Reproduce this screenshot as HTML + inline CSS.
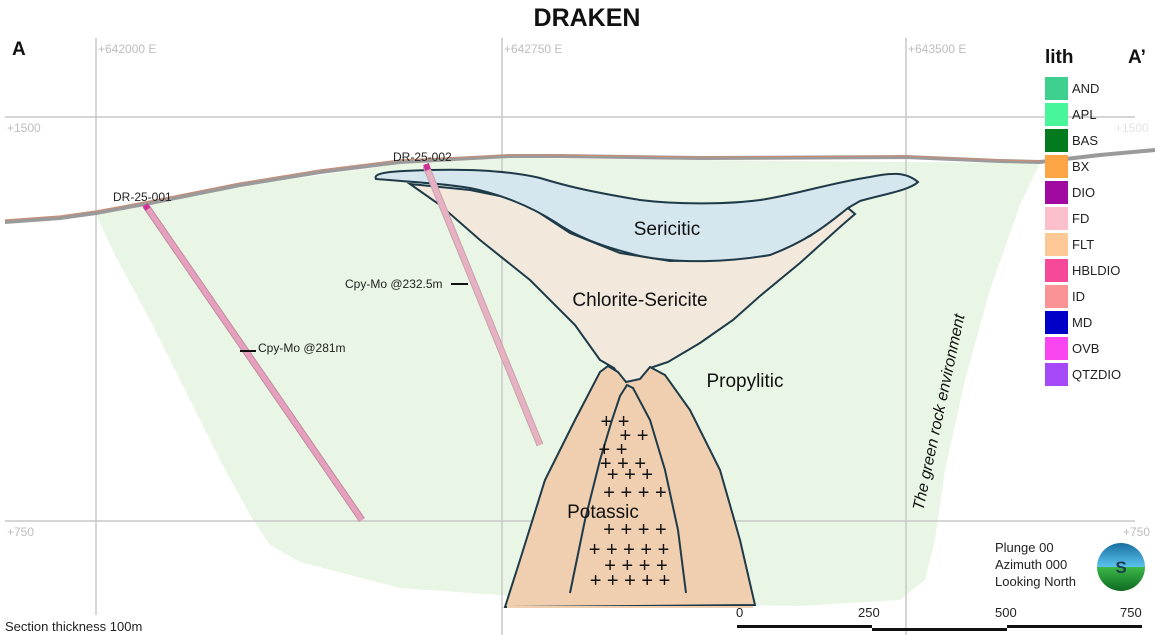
<!DOCTYPE html>
<html><head><meta charset="utf-8"><style>
html,body{margin:0;padding:0;background:#fff;}
svg{display:block;font-family:"Liberation Sans",sans-serif;}
</style></head><body>
<svg width="1175" height="635" viewBox="0 0 1175 635" xmlns="http://www.w3.org/2000/svg">
<rect width="1175" height="635" fill="#fff"/>
<!-- green envelope -->
<path d="M96,215 L240,186 L400,164 L510,158 L700,160 L906,162 L1040,163 L1020,205 L990,290 L965,380 L945,470 L935,540 L925,580 L900,600 L800,606 L700,604 L540,598 L400,588 L300,562 L270,545 L250,515 L220,460 L190,400 L150,320 L115,255 Z" fill="#eaf6e5"/>
<!-- grid -->
<g stroke="#c9c9c9" stroke-width="1.5" fill="none">
<line x1="96" y1="38" x2="96" y2="615"/>
<line x1="502" y1="38" x2="502" y2="635"/>
<line x1="906" y1="38" x2="906" y2="635"/>
<line x1="5" y1="117" x2="1135" y2="117"/>
<line x1="5" y1="521" x2="1135" y2="521"/>
</g>
<g fill="#bdbdbd" font-size="12">
<text x="98" y="53">+642000 E</text>
<text x="504" y="53">+642750 E</text>
<text x="908" y="53">+643500 E</text>
<text x="7" y="132">+1500</text>
<text x="7" y="536">+750</text>
<text x="1115" y="132" fill="#e4e4e4">+1500</text>
<text x="1123" y="536">+750</text>
</g>
<!-- topography -->
<path d="M5,222 L60,218 L96,213 L150,203 L240,185 L320,172 L400,162 L510,156 L560,156 L700,158 L906,157 L1000,161 L1040,162 L1100,155 L1155,150" fill="none" stroke="#9a9a9a" stroke-width="4"/>
<path d="M5,220 L60,216 L96,211 L150,201 L240,183 L320,170 L400,160 L510,155 L560,155 L700,157 L906,156 L1000,160 L1040,161" fill="none" stroke="#c58f7a" stroke-width="1.2"/>
<!-- chlorite-sericite -->
<path d="M410,184 L470,190 L520,200 L570,233 L620,253 L670,261 L720,260 L770,255 L810,236 L848,208 L855,214 L840,227 L800,263 L760,296 L733,320 L700,343 L668,362 L650,368 L640,380 L625,383 L614,368 L600,360 L575,325 L530,280 L480,240 L440,205 Z" fill="#f2e8dc" stroke="#1e3a48" stroke-width="2"/>
<!-- sericitic -->
<path d="M376,179 C372,172 395,171 430,170 C470,169 510,171 540,178 C560,184 580,190 640,200 C680,205 730,204 760,200 C790,196 830,183 870,177 C890,173 905,171 918,182 C910,190 885,194 860,201 L848,208 C830,222 810,240 770,255 C730,262 680,264 640,256 C600,246 575,236 555,222 C530,206 500,194 470,188 C440,183 410,182 376,179 Z" fill="#d5e6ee" stroke="#1e3a48" stroke-width="2"/>
<!-- potassic outer -->
<path d="M505,607 L520,560 L545,480 L575,420 L600,372 L608,366 L618,372 L626,382 L640,379 L650,367 L665,375 L690,410 L720,470 L740,540 L755,605 Z" fill="#f0cfb0" stroke="#1e3a48" stroke-width="2"/>
<path d="M507,607 L753,607" stroke="#f0cfb0" stroke-width="2"/>
<!-- inner -->
<path d="M570,593 L585,520 L600,460 L612,420 L620,396 L627,385 L633,388 L650,420 L665,470 L678,530 L686,593" fill="none" stroke="#1e3a48" stroke-width="2"/>
<g font-size="20" fill="#111" text-anchor="middle">
<text x="615" y="428">+ +</text><text x="634" y="442">+ +</text>
<text x="613" y="456">+ +</text><text x="623" y="470">+ + +</text>
<text x="630" y="481">+ + +</text><text x="635" y="499">+ + + +</text>
<text x="635" y="536">+ + + +</text><text x="629" y="556">+ + + + +</text>
<text x="636" y="572">+ + + +</text><text x="630" y="587">+ + + + +</text>
</g>
<!-- drill holes -->
<line x1="146" y1="206" x2="362" y2="520" stroke="#bd8e9a" stroke-width="7"/>
<line x1="146" y1="206" x2="362" y2="520" stroke="#e79fc0" stroke-width="5"/>
<line x1="145" y1="205" x2="148" y2="209" stroke="#d0309a" stroke-width="6"/>
<line x1="426" y1="166" x2="540" y2="445" stroke="#c8a0a8" stroke-width="7"/>
<line x1="426" y1="166" x2="540" y2="445" stroke="#e7b1c4" stroke-width="5"/>
<line x1="426" y1="164" x2="428" y2="170" stroke="#d0309a" stroke-width="6"/>
<line x1="240" y1="351" x2="256" y2="351" stroke="#111" stroke-width="2"/>
<line x1="451" y1="284" x2="468" y2="284" stroke="#111" stroke-width="2"/>
<g font-size="12" fill="#222">
<text x="113" y="201">DR-25-001</text>
<text x="393" y="161">DR-25-002</text>
<text x="258" y="352">Cpy-Mo @281m</text>
<text x="345" y="288">Cpy-Mo @232.5m</text>
</g>
<g font-size="19" fill="#111" text-anchor="middle">
<text x="667" y="235">Sericitic</text>
<text x="640" y="306">Chlorite-Sericite</text>
<text x="745" y="387">Propylitic</text>
<text x="603" y="518">Potassic</text>
<text x="938" y="418" font-size="16" font-style="italic" transform="rotate(-78 938 412)">The green rock environment</text>
</g>
<text x="587" y="26" font-size="25" font-weight="bold" text-anchor="middle" fill="#111">DRAKEN</text>
<text x="12" y="55" font-size="19" font-weight="bold" fill="#111">A</text>
<text x="1128" y="63" font-size="19" font-weight="bold" fill="#111">A’</text>
<text x="1045" y="63" font-size="19" font-weight="bold" fill="#111">lith</text>
<!-- legend -->
<g font-size="13" fill="#222">
<rect x="1045" y="77" width="23" height="23" fill="#3dd08f"/><text x="1072" y="93">AND</text>
<rect x="1045" y="103" width="23" height="23" fill="#49f59a"/><text x="1072" y="119">APL</text>
<rect x="1045" y="129" width="23" height="23" fill="#027a1d"/><text x="1072" y="145">BAS</text>
<rect x="1045" y="155" width="23" height="23" fill="#fba546"/><text x="1072" y="171">BX</text>
<rect x="1045" y="181" width="23" height="23" fill="#a00aa0"/><text x="1072" y="197">DIO</text>
<rect x="1045" y="207" width="23" height="23" fill="#fcc0cc"/><text x="1072" y="223">FD</text>
<rect x="1045" y="233" width="23" height="23" fill="#fcc996"/><text x="1072" y="249">FLT</text>
<rect x="1045" y="259" width="23" height="23" fill="#f7499a"/><text x="1072" y="275">HBLDIO</text>
<rect x="1045" y="285" width="23" height="23" fill="#fa9494"/><text x="1072" y="301">ID</text>
<rect x="1045" y="311" width="23" height="23" fill="#0000c8"/><text x="1072" y="327">MD</text>
<rect x="1045" y="337" width="23" height="23" fill="#fa46f0"/><text x="1072" y="353">OVB</text>
<rect x="1045" y="363" width="23" height="23" fill="#a449f5"/><text x="1072" y="379">QTZDIO</text>
</g>
<!-- orientation -->
<g font-size="13" fill="#222">
<text x="995" y="552">Plunge 00</text>
<text x="995" y="569">Azimuth 000</text>
<text x="995" y="586">Looking North</text>
</g>
<defs><linearGradient id="sph" x1="0" y1="0" x2="0" y2="1">
<stop offset="0" stop-color="#1a6fa0"/><stop offset="0.5" stop-color="#5bc3ee"/><stop offset="0.5" stop-color="#3db84a"/><stop offset="1" stop-color="#0d6a20"/></linearGradient></defs>
<circle cx="1121" cy="567" r="24" fill="url(#sph)"/>
<text x="1121" y="573" font-size="17" font-weight="bold" text-anchor="middle" fill="#1f3b50">S</text>
<!-- scale -->
<g font-size="13" fill="#222">
<text x="736" y="617">0</text><text x="858" y="617">250</text><text x="995" y="617">500</text><text x="1120" y="617">750</text>
</g>
<rect x="737" y="625" width="135" height="3" fill="#111"/>
<rect x="872" y="628" width="135" height="3" fill="#111"/>
<rect x="1007" y="625" width="135" height="3" fill="#111"/>
<text x="5" y="631" font-size="13" fill="#222">Section thickness 100m</text>
</svg>
</body></html>
